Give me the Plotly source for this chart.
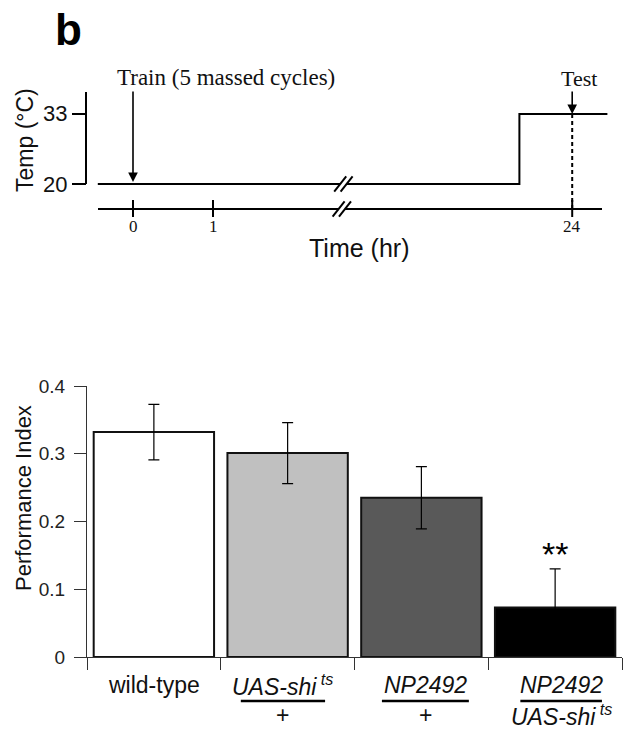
import plotly.graph_objects as go

# ---- schematic (top) ----
temp_ticks = [20, 33]
time_tick_labels = ["0", "1", "24"]
time_tick_pos = [0, 1, 5.49]          # schematic positions, axis broken after 1 hr
profile_pos = [-0.44, 4.83, 4.83, 5.93]
profile_temp = [20, 20, 33, 33]
train_pos = 0
test_pos = 5.49
break_pos = 2.63

# ---- bar chart (bottom) ----
genotypes = ["wild-type", "UAS-shi/+", "NP2492/+", "NP2492/UAS-shi"]
pi_mean = [0.332, 0.301, 0.235, 0.073]
pi_sem = [0.041, 0.045, 0.046, 0.057]
bar_colors = ["#ffffff", "#c0c0c0", "#595959", "#000000"]
y_ticks = [0, 0.1, 0.2, 0.3, 0.4]
y_ticktext = ["0", "0.1", "0.2", "0.3", "0.4"]

# page body has an 8px margin, so the figure is 16px smaller than the window
OFF = 8
W, H = 634 - 2 * OFF, 736 - 2 * OFF
SANS = "Liberation Sans, Arial, sans-serif"
SERIF = "Liberation Serif, Times New Roman, serif"


def px(x):  # window column -> paper x
    return (x - OFF) / W


def py(y):  # window row -> paper y
    return 1 - (y - OFF) / H


# top axes: u = (col - 133) / 80 ; T = 20 + (184 - row) / 5.385
def U(c):
    return (c - 133) / 80.0


def T(r):
    return 20 + (184 - r) / 5.385


fig = go.Figure()

line_kw = dict(xaxis="x2", yaxis="y2", showlegend=False, hoverinfo="skip", mode="lines")

# temperature profile
fig.add_trace(go.Scatter(x=profile_pos, y=profile_temp, line=dict(color="black", width=2), **line_kw))
# time baseline
fig.add_trace(go.Scatter(x=[U(98), U(602)], y=[T(209), T(209)],
                         line=dict(color="black", width=2), **line_kw))
# temp axis line
fig.add_trace(go.Scatter(x=[U(86), U(86)], y=[20, T(92)],
                         line=dict(color="black", width=2), **line_kw))
# test dashed line
fig.add_trace(go.Scatter(x=[test_pos, test_pos], y=[33, T(209)],
                         line=dict(color="black", width=2, dash="4px,3px"), **line_kw))

shapes = []
annotations = []

for t in temp_ticks:
    shapes.append(dict(type="line", xref="x2", yref="y2", x0=U(72), x1=U(86), y0=t, y1=t,
                       line=dict(color="black", width=2)))
    annotations.append(dict(x=U(69), y=t, xref="x2", yref="y2", text=str(t), showarrow=False,
                            xanchor="right", yanchor="middle",
                            font=dict(family=SANS, size=22, color="#111")))

for pos, lab in zip(time_tick_pos, time_tick_labels):
    shapes.append(dict(type="line", xref="x2", yref="y2", x0=pos, x1=pos, y0=T(200), y1=T(217),
                       line=dict(color="black", width=2)))
    annotations.append(dict(x=pos, y=T(226), xref="x2", yref="y2", text=lab, showarrow=False,
                            xanchor="center", yanchor="middle",
                            font=dict(family=SERIF, size=17, color="#111")))

# axis breaks
for line_row, bp in [(184, break_pos), (209, break_pos - 0.02)]:
    yl = T(line_row)
    shapes.append(dict(type="line", xref="x2", yref="y2", x0=bp - 0.04, x1=bp + 0.04,
                       y0=yl, y1=yl, line=dict(color="white", width=4)))
    for off in (-0.04, 0.04):
        shapes.append(dict(type="line", xref="x2", yref="y2",
                           x0=bp + off - 0.075, x1=bp + off + 0.075,
                           y0=yl - 1.4, y1=yl + 1.4, line=dict(color="black", width=2)))

# arrows
for pos, r0, r1 in [(train_pos, 90, 182), (test_pos, 90, 114)]:
    annotations.append(dict(x=pos, y=T(r1), ax=pos, ay=T(r0), xref="x2", yref="y2",
                            axref="x2", ayref="y2", text="", showarrow=True, arrowhead=2,
                            arrowsize=1.2, arrowwidth=1.6, arrowcolor="black"))

annotations.append(dict(x=U(115), y=T(77), xref="x2", yref="y2", text="Train (5 massed cycles)",
                        showarrow=False, xanchor="left", yanchor="middle",
                        font=dict(family=SERIF, size=23, color="#111")))
annotations.append(dict(x=U(579), y=T(78), xref="x2", yref="y2", text="Test",
                        showarrow=False, xanchor="center", yanchor="middle",
                        font=dict(family=SERIF, size=22, color="#111")))
annotations.append(dict(x=U(359), y=T(248), xref="x2", yref="y2", text="Time (hr)",
                        showarrow=False, xanchor="center", yanchor="middle",
                        font=dict(family=SANS, size=25, color="#111")))
annotations.append(dict(x=U(25), y=T(140), xref="x2", yref="y2", text="Temp (°C)",
                        showarrow=False, textangle=-90, xanchor="center", yanchor="middle",
                        font=dict(family=SANS, size=23, color="#111")))
annotations.append(dict(x=px(69), y=py(29), xref="paper", yref="paper", text="<b>b</b>",
                        showarrow=False, xanchor="center", yanchor="middle",
                        font=dict(family=SANS, size=44, color="black")))

# ---- bars ----
fig.add_trace(go.Bar(
    x=list(range(len(genotypes))), y=pi_mean, width=0.9,
    marker=dict(color=bar_colors, line=dict(color="#111", width=2)),
    error_y=dict(type="data", array=pi_sem, color="black", thickness=1.2, width=5.5),
    xaxis="x", yaxis="y", showlegend=False,
    hovertext=genotypes,
))

annotations.append(dict(x=3, y=0.152, xref="x", yref="y", text="**", showarrow=False,
                        xanchor="center", yanchor="middle",
                        font=dict(family=SANS, size=34, color="black")))

lab_font = dict(family=SANS, size=23, color="#111")
num_y, bar_y, den_y = py(685), py(701), py(715)
label_parts = [
    ("wild-type", None, None, None),
    ("<i>UAS-shi</i><sup><i> ts</i></sup>", "+", -0.035, 0.63),
    ("<i>NP2492</i>", "+", 0.03, 0.65),
    ("<i>NP2492</i>", "<i>UAS-shi</i><sup><i> ts</i></sup>", 0.045, 0.61),
]
for i, (num, den, off, wid) in enumerate(label_parts):
    if den is None:
        annotations.append(dict(x=i, y=num_y, xref="x", yref="paper", text=num, showarrow=False,
                                xanchor="center", yanchor="middle", font=lab_font))
        continue
    annotations.append(dict(x=i + off, y=num_y, xref="x", yref="paper", text=num, showarrow=False,
                            xanchor="center", yanchor="middle", font=lab_font))
    annotations.append(dict(x=i + off, y=den_y, xref="x", yref="paper", text=den, showarrow=False,
                            xanchor="center", yanchor="middle", font=lab_font))
    shapes.append(dict(type="line", xref="x", yref="paper", x0=i + off - wid / 2,
                       x1=i + off + wid / 2, y0=bar_y, y1=bar_y,
                       line=dict(color="black", width=2.5)))

annotations.append(dict(x=px(23), y=py(498), xref="paper", yref="paper", text="Performance Index",
                        showarrow=False, textangle=-90, xanchor="center", yanchor="middle",
                        font=dict(family=SANS, size=22, color="#111")))

fig.update_layout(
    width=W, height=H,
    margin=dict(l=0, r=0, t=0, b=0),
    paper_bgcolor="white", plot_bgcolor="white",
    xaxis=dict(domain=[px(87), px(622)], range=[-0.5, 3.5], anchor="y",
               tickvals=[-0.5, 0.5, 1.5, 2.5, 3.5], showticklabels=False,
               ticks="outside", ticklen=12, tickcolor="#333", tickwidth=1,
               showline=True, linecolor="#333", linewidth=1,
               showgrid=False, zeroline=False, automargin=False, fixedrange=True),
    yaxis=dict(domain=[py(657), py(386)], range=[0, 0.4], anchor="x",
               tickvals=y_ticks, ticktext=y_ticktext,
               ticks="outside", ticklen=12, tickcolor="#333", tickwidth=1,
               ticklabelstandoff=5,
               tickfont=dict(family=SANS, size=19, color="#222"),
               showline=True, linecolor="#333", linewidth=1,
               showgrid=False, zeroline=False, automargin=False, fixedrange=True),
    xaxis2=dict(domain=[0, 1], range=[U(OFF), U(OFF + W)], anchor="y2", visible=False,
                fixedrange=True),
    yaxis2=dict(domain=[py(260), 1], range=[T(260), T(OFF)], anchor="x2", visible=False,
                fixedrange=True),
    shapes=shapes,
    annotations=annotations,
)

fig.write_html("out.html")
